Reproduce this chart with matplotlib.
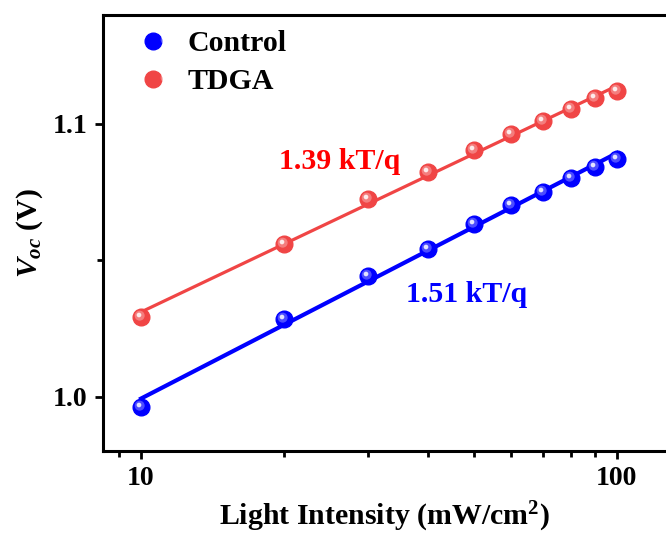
import matplotlib
matplotlib.use("Agg")
import matplotlib.pyplot as plt
import numpy as np
from matplotlib.path import Path
from matplotlib.legend_handler import HandlerTuple

plt.rcParams['font.family'] = 'Liberation Serif'
plt.rcParams['font.weight'] = 'bold'
plt.rcParams['mathtext.fontset'] = 'custom'
plt.rcParams['mathtext.rm'] = 'Liberation Serif:bold'
plt.rcParams['mathtext.it'] = 'Liberation Serif:italic:bold'
plt.rcParams['mathtext.bf'] = 'Liberation Serif:bold'

intensity = np.array([10, 20, 30, 40, 50, 60, 70, 80, 90, 100])
voc_control = np.array([0.9960, 1.0284, 1.0443, 1.0542, 1.0633, 1.0703, 1.0752, 1.0803, 1.0843, 1.0871])
voc_tdga = np.array([1.0291, 1.0559, 1.0724, 1.0823, 1.0905, 1.0962, 1.1012, 1.1054, 1.1094, 1.1121])
labels = ["Control", "TDGA"]
slopes = ["1.51 kT/q", "1.39 kT/q"]

blue = "#0000FF"
red = "#F04545"


def blob(cx, cy, r):
    # small circle path, plus invisible corner points so marker scaling stays fixed
    c = Path.circle((cx, cy), r)
    verts = np.vstack([c.vertices, [[-1, -1], [1, 1], [-1, 1], [1, -1]]])
    codes = np.concatenate([c.codes, [Path.MOVETO] * 4])
    return Path(verts, codes)


shine_mid = blob(-0.22, 0.22, 0.6)
shine_hi = blob(-0.3, 0.3, 0.28)

fig = plt.figure(figsize=(6.66, 5.33), dpi=100)
ax = fig.add_axes([103 / 666, 1 - 451 / 533, (666 - 103) / 666, (451 - 15) / 533])

handles = []
for y, col, lw in [(voc_control, blue, 3.0), (voc_tdga, red, 2.3)]:
    k, b = np.polyfit(np.log10(intensity), y, 1)
    ax.plot(intensity, k * np.log10(intensity) + b, color=col, lw=lw, zorder=2)
    base, = ax.plot(intensity, y, 'o', ms=12, color=col, mec=col, zorder=3)
    mid, = ax.plot(intensity, y, ls='none', marker=shine_mid, ms=12, color='white', alpha=0.3, mew=0, zorder=4)
    hi, = ax.plot(intensity, y, ls='none', marker=shine_hi, ms=12, color='white', alpha=0.85, mew=0, zorder=5)
    handles.append((base, mid, hi))

ax.set_xscale('log')
ax.set_xlim(8.32, 126.8)
ax.set_ylim(0.98, 1.14)
ax.set_xticks([10, 100])
ax.set_xticklabels(['10', '100'])
ax.set_xticks([9, 20, 30, 40, 50, 60, 70, 80, 90], minor=True)
ax.set_xticklabels([], minor=True)
ax.set_yticks([1.0, 1.1])
ax.set_yticklabels(['1.0', '1.1'])
ax.set_yticks([1.05], minor=True)

for s in ['left', 'bottom', 'top']:
    ax.spines[s].set_linewidth(2.2)
ax.spines['right'].set_visible(False)
ax.tick_params(which='major', direction='out', length=6, width=2, labelsize=20, pad=5)
ax.tick_params(which='minor', direction='out', length=4, width=2)
ax.tick_params(top=False, right=False, which='both')

ax.set_xlabel(r'Light Intensity (mW/cm$^{2}$)', fontsize=21.5, fontweight='bold', labelpad=6)
ax.set_ylabel(r'$V_{oc}$ (V)', fontsize=21.5, fontweight='bold', labelpad=6)

ax.text(26.2, 1.0861, slopes[1], color='#FF0000', fontsize=21.5, fontweight='bold', ha='center', va='center')
ax.text(48.4, 1.0373, slopes[0], color=blue, fontsize=21.5, fontweight='bold', ha='center', va='center')

ax.legend(handles, labels, handler_map={tuple: HandlerTuple(ndivide=None)},
          loc='upper left', bbox_to_anchor=(0.039, 1.027), frameon=False,
          handlelength=1.0, handletextpad=0.2, labelspacing=0.37,
          prop={'weight': 'bold', 'size': 21.5})

fig.savefig('out.png', dpi=100)
